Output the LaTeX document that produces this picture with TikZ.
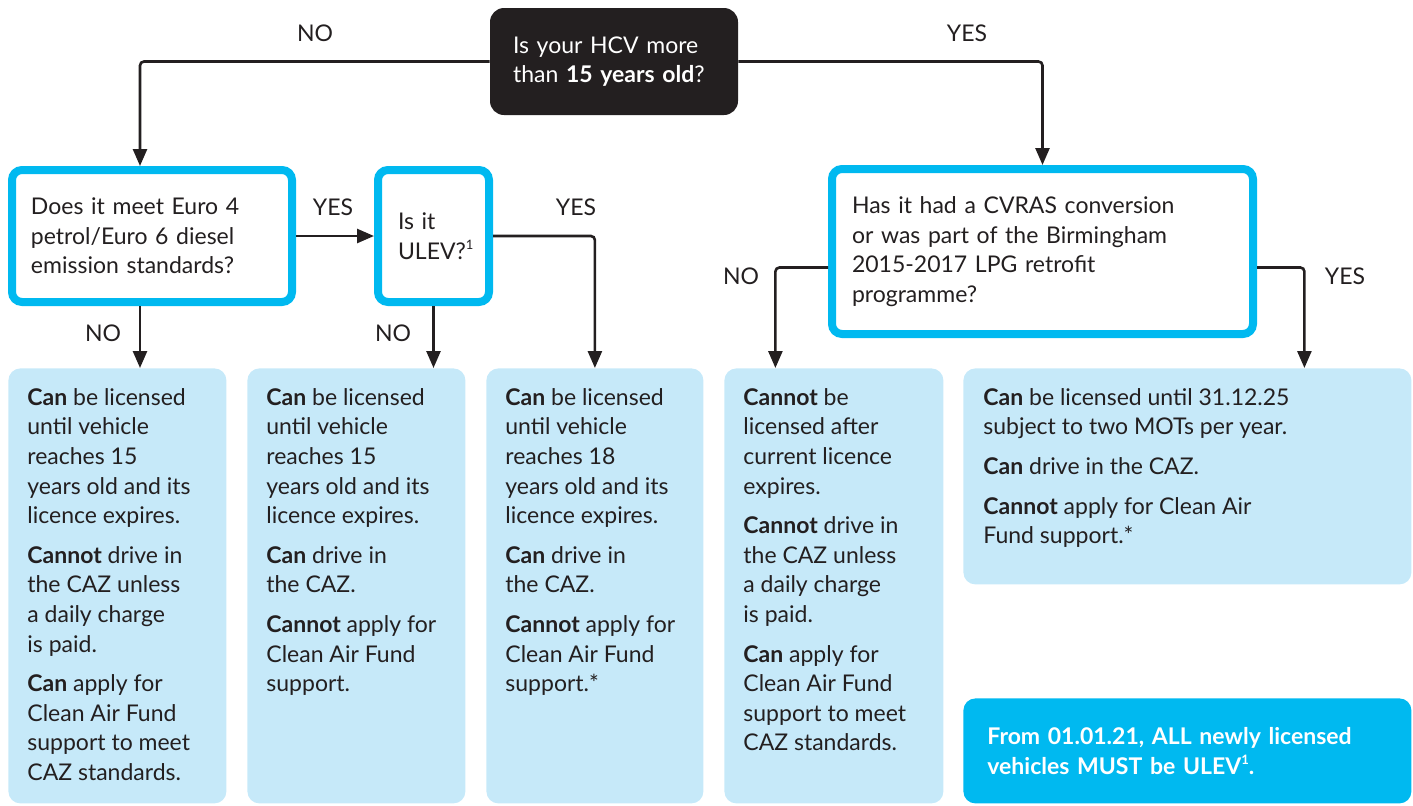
\documentclass[tikz,border=0pt]{standalone}
\usepackage{fontspec}
\setmainfont{Lato}
\usepackage{tikz}
\usetikzlibrary{arrows.meta,positioning}
\definecolor{cazcyan}{RGB}{0,185,240}
\definecolor{cazpale}{RGB}{198,233,249}
\definecolor{cazdark}{RGB}{35,31,32}
\newcommand{\cazfont}{\fontsize{11.5}{14.8}\selectfont}
\newcommand{\cazsup}[1]{\raisebox{0.8ex}{\fontsize{6.5}{7}\selectfont #1}}

\begin{document}
\begin{tikzpicture}[x=0.5pt,y=-0.5pt,cazdark,font=\cazfont,
	question/.style={draw=cazcyan,line width=4pt,rounded corners=5pt,fill=white,align=left,inner sep=0pt},
	outcome/.style={fill=cazpale,rounded corners=6pt,anchor=north west,inner sep=0pt},
	outtext/.style={anchor=north west,align=left,inner sep=0pt},
	link/.style={line width=1.3pt,rounded corners=2pt,-{Triangle[width=7pt,length=8.5pt]}}]
		\useasboundingbox (0,0) rectangle (1413,805);
		
		\node[fill=cazdark,rounded corners=7pt,minimum width=124pt,minimum height=53.5pt,text width=101pt,align=left,text=white,inner sep=0pt] (hcv) at (614,61.5) {Is your HCV more\\than \textbf{15 years old}?};
		\node[question,minimum width=140pt,minimum height=66pt,text width=121pt] (euro) at (152,236) {Does it meet Euro 4\\petrol/Euro 6 diesel\\emission standards?};
		\node[question,minimum width=55.5pt,minimum height=66pt,text width=35.5pt] (ulev) at (433.5,236) {Is it\\ULEV?\cazsup{1}};
		\node[question,minimum width=210.5pt,minimum height=82.5pt,text width=190.5pt] (cvras) at (1042.5,251.5) {Has it had a CVRAS conversion\\or was part of the Birmingham\\2015-2017 LPG retrofit\\programme?};
		
		\node[outcome,minimum width=109pt,minimum height=217.5pt] (resA) at (8,368) {};
		\node[outcome,minimum width=109pt,minimum height=217.5pt] (resB) at (247,368) {};
		\node[outcome,minimum width=108.5pt,minimum height=217.5pt] (resC) at (486,368) {};
		\node[outcome,minimum width=109.5pt,minimum height=217.5pt] (resD) at (724,368) {};
		\node[outcome,minimum width=224pt,minimum height=108pt] (resE) at (963,368) {};
		\node[outcome,fill=cazcyan,minimum width=224pt,minimum height=52.5pt,text width=200pt,align=left,text=white,font=\cazfont\bfseries] (resF) at (963,698) {From 01.01.21, ALL newly licensed\\vehicles MUST be ULEV\cazsup{1}.};
		
		\node[outtext] (txtA) at ([shift={(19,20)}]resA.north west) {\textbf{Can} be licensed\\until vehicle\\reaches 15\\years old and its\\licence expires.\\[5pt]\textbf{Cannot} drive in\\the CAZ unless\\a daily charge\\is paid.\\[5pt]\textbf{Can} apply for\\Clean Air Fund\\support to meet\\CAZ standards.};
		\node[outtext] (txtB) at ([shift={(19,20)}]resB.north west) {\textbf{Can} be licensed\\until vehicle\\reaches 15\\years old and its\\licence expires.\\[5pt]\textbf{Can} drive in\\the CAZ.\\[5pt]\textbf{Cannot} apply for\\Clean Air Fund\\support.};
		\node[outtext] (txtC) at ([shift={(19,20)}]resC.north west) {\textbf{Can} be licensed\\until vehicle\\reaches 18\\years old and its\\licence expires.\\[5pt]\textbf{Can} drive in\\the CAZ.\\[5pt]\textbf{Cannot} apply for\\Clean Air Fund\\support.*};
		\node[outtext] (txtD) at ([shift={(19,20)}]resD.north west) {\textbf{Cannot} be\\licensed after\\current licence\\expires.\\[5pt]\textbf{Cannot} drive in\\the CAZ unless\\a daily charge\\is paid.\\[5pt]\textbf{Can} apply for\\Clean Air Fund\\support to meet\\CAZ standards.};
		\node[outtext] (txtE) at ([shift={(20,20)}]resE.north west) {\textbf{Can} be licensed until 31.12.25\\subject to two MOTs per year.\\[5pt]\textbf{Can} drive in the CAZ.\\[5pt]\textbf{Cannot} apply for Clean Air\\Fund support.*};
		
		\coordinate (euroin) at ([xshift=-6pt]euro.north);
		\coordinate (euroout) at ([xshift=-6pt]euro.south);
		\coordinate (cvrasno) at ([yshift=-8pt]cvras.west);
		\coordinate (cvrasyes) at ([yshift=-8pt]cvras.east);
		\coordinate (resDin) at ([xshift=-29.25pt]resD.north);
		\coordinate (resEin) at ([xshift=58.5pt]resE.north);
		
		\draw[link] (hcv.west) -| (euroin);
		\draw[link] (hcv.east) -| (cvras.north);
		\draw[link] (euro.east) -- (ulev.west);
		\draw[link] (euroout) -- (euroout |- resA.north);
		\draw[link] (ulev.south) -- (ulev.south |- resB.north);
		\draw[link] (ulev.east) -| (resC.north);
		\draw[link] (cvrasno) -| (resDin);
		\draw[link] (cvrasyes) -| (resEin);
		
		\node (noHcv) at (315,33) {NO};
		\node (yesHcv) at (967,33) {YES};
		\node (yesEuro) at (333,207) {YES};
		\node (noEuro) at (103,333) {NO};
		\node (yesUlev) at (576,207) {YES};
		\node (noUlev) at (393,333) {NO};
		\node (noCvras) at (741,276) {NO};
		\node (yesCvras) at (1345,276) {YES};
	\end{tikzpicture}
\end{document}
